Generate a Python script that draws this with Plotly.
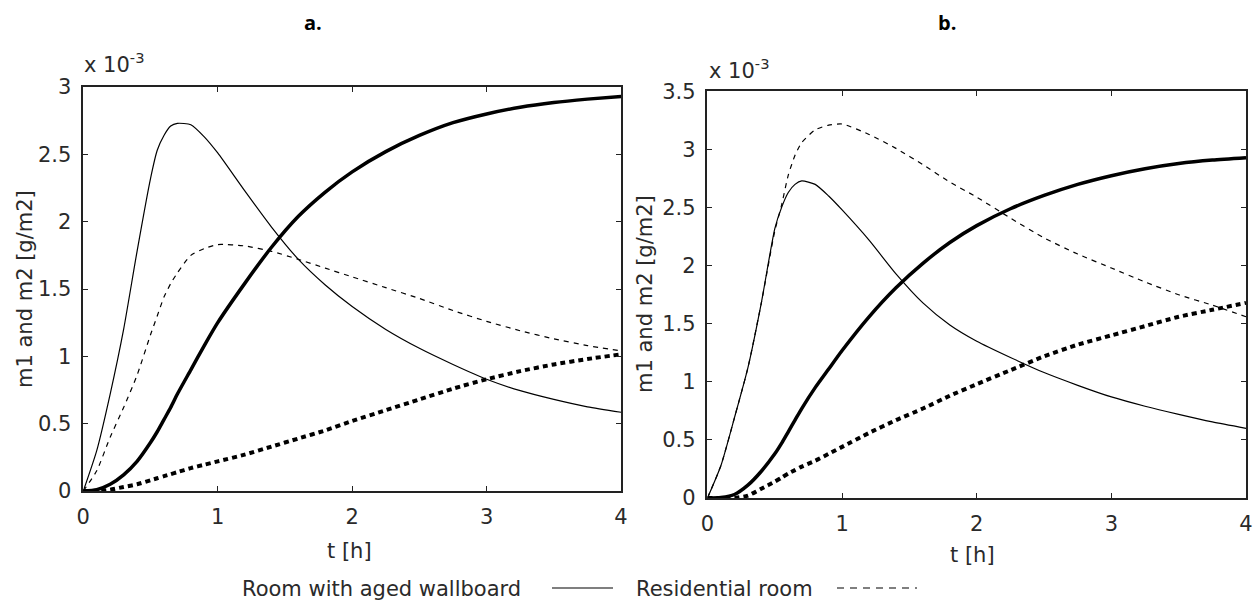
import plotly.graph_objects as go

# Time grid in hours
t = [0, 0.1, 0.2, 0.3, 0.4, 0.5, 0.55, 0.6, 0.65, 0.7, 0.8, 0.9, 1.0, 1.2, 1.4, 1.6,
     1.8, 2.0, 2.25, 2.5, 2.75, 3.0, 3.25, 3.5, 3.75, 4.0]

# Panel a: mass per area, in units of 1e-3 g/m2
a_m1_aged = [0, 0.30, 0.72, 1.20, 1.78, 2.32, 2.53, 2.64, 2.71, 2.73, 2.72, 2.63, 2.51, 2.23,
             1.96, 1.72, 1.53, 1.37, 1.20, 1.06, 0.94, 0.83, 0.745, 0.68, 0.625, 0.585]
a_m1_resid = [0, 0.15, 0.40, 0.62, 0.86, 1.16, 1.30, 1.44, 1.54, 1.62, 1.75, 1.80, 1.83, 1.82,
              1.78, 1.72, 1.655, 1.59, 1.51, 1.43, 1.34, 1.26, 1.19, 1.13, 1.08, 1.04]
a_m2_aged = [0, 0.01, 0.05, 0.12, 0.22, 0.36, 0.44, 0.53, 0.62, 0.72, 0.90, 1.08, 1.25, 1.54,
             1.81, 2.04, 2.22, 2.37, 2.52, 2.64, 2.735, 2.80, 2.85, 2.885, 2.91, 2.93]
a_m2_resid = [0, 0, 0.01, 0.03, 0.05, 0.08, 0.095, 0.11, 0.125, 0.14, 0.17, 0.195, 0.22, 0.27,
              0.33, 0.39, 0.45, 0.52, 0.60, 0.68, 0.76, 0.83, 0.89, 0.94, 0.98, 1.015]

# Panel b
b_m1_aged = [0, 0.28, 0.69, 1.12, 1.68, 2.32, 2.50, 2.63, 2.70, 2.73, 2.70, 2.60, 2.48, 2.22,
             1.93, 1.68, 1.49, 1.35, 1.21, 1.08, 0.97, 0.87, 0.79, 0.72, 0.655, 0.60]
b_m1_resid = [0, 0.28, 0.69, 1.12, 1.68, 2.30, 2.52, 2.78, 2.95, 3.06, 3.17, 3.21, 3.22, 3.13,
              3.01, 2.87, 2.72, 2.59, 2.41, 2.24, 2.10, 1.98, 1.86, 1.75, 1.66, 1.56]
b_m2_aged = [0, 0.005, 0.03, 0.11, 0.23, 0.38, 0.47, 0.57, 0.67, 0.77, 0.95, 1.11, 1.27, 1.56,
             1.81, 2.02, 2.20, 2.345, 2.49, 2.605, 2.70, 2.775, 2.835, 2.88, 2.91, 2.93]
b_m2_resid = [0, 0, 0, 0.02, 0.08, 0.14, 0.175, 0.21, 0.24, 0.27, 0.32, 0.38, 0.44, 0.56,
              0.67, 0.77, 0.88, 0.98, 1.10, 1.22, 1.32, 1.40, 1.48, 1.56, 1.62, 1.68]

x_ticks = [0, 1, 2, 3, 4]
a_y_ticks = [0, 0.5, 1, 1.5, 2, 2.5, 3]
b_y_ticks = [0, 0.5, 1, 1.5, 2, 2.5, 3, 3.5]

FONT = "DejaVu Sans"
INK = "#2a2a2a"

thin_solid = dict(color="black", width=1.2)
thin_dash = dict(color="black", width=1.2, dash="5px,5px")
thick_solid = dict(color="black", width=3.5)
thick_dot = dict(color="black", width=4, dash="5px,4px")

fig = go.Figure()

for xa, ya, series in [
    ("x", "y", [a_m1_aged, a_m1_resid, a_m2_aged, a_m2_resid]),
    ("x2", "y2", [b_m1_aged, b_m1_resid, b_m2_aged, b_m2_resid]),
]:
    for vals, style in zip(series, [thin_solid, thin_dash, thick_solid, thick_dot]):
        fig.add_trace(go.Scatter(
            x=t, y=vals, xaxis=xa, yaxis=ya, mode="lines",
            line=dict(shape="spline", smoothing=0.6, **style),
            showlegend=False, hoverinfo="skip",
        ))

axis_common = dict(
    showgrid=False, zeroline=False, showline=True, linecolor="#222", linewidth=1.5,
    mirror="ticks", ticks="inside", ticklen=5, tickwidth=1.2, tickcolor="#222",
    tickfont=dict(family=FONT, size=21, color=INK), automargin=False,
)

fig.update_layout(
    width=1260, height=605, margin=dict(l=0, r=0, t=0, b=0, autoexpand=False),
    paper_bgcolor="white", plot_bgcolor="white",
    xaxis=dict(domain=[0.0661, 0.4929], range=[0, 4], tickvals=x_ticks,
               anchor="y", ticklabelstandoff=6, **axis_common),
    yaxis=dict(domain=[0.1884, 0.8562], range=[0, 3], tickvals=a_y_ticks,
               ticktext=[f"{v:g}" for v in a_y_ticks], anchor="x",
               ticklabelstandoff=6, **axis_common),
    xaxis2=dict(domain=[0.5615, 0.9889], range=[0, 4], tickvals=x_ticks,
                anchor="y2", ticklabelstandoff=6, **axis_common),
    yaxis2=dict(domain=[0.1769, 0.8488], range=[0, 3.5], tickvals=b_y_ticks,
                ticktext=[f"{v:g}" for v in b_y_ticks], anchor="x2",
                ticklabelstandoff=6, **axis_common),
)

def px_x(px):
    return px / 1260

def px_y(py):
    return 1 - py / 605

annotations = [
    # panel letters
    dict(text="<b>a.</b>", x=px_x(313), y=px_y(22), font=dict(family="Open Sans", size=20, color="black")),
    dict(text="<b>b.</b>", x=px_x(947), y=px_y(22), font=dict(family="Open Sans", size=20, color="black")),
    # exponent labels
    dict(text="x 10<sup>-3</sup>", x=px_x(82), y=px_y(63), xanchor="left",
         font=dict(family=FONT, size=21, color=INK)),
    dict(text="x 10<sup>-3</sup>", x=px_x(707), y=px_y(69), xanchor="left",
         font=dict(family=FONT, size=21, color=INK)),
    # axis titles
    dict(text="m1 and m2 [g/m2]", x=px_x(25), y=px_y(289), textangle=-90,
         font=dict(family=FONT, size=21, color=INK)),
    dict(text="m1 and m2 [g/m2]", x=px_x(645), y=px_y(294), textangle=-90,
         font=dict(family=FONT, size=21, color=INK)),
    dict(text="t [h]", x=px_x(349), y=px_y(551), font=dict(family=FONT, size=21, color=INK)),
    dict(text="t [h]", x=px_x(972), y=px_y(555), font=dict(family=FONT, size=21, color=INK)),
    # legend labels
    dict(text="Room with aged wallboard", x=px_x(240), y=px_y(589), xanchor="left",
         font=dict(family=FONT, size=21, color=INK)),
    dict(text="Residential room", x=px_x(634), y=px_y(589), xanchor="left",
         font=dict(family=FONT, size=21, color=INK)),
]
for a in annotations:
    a.setdefault("xanchor", "center")
    a.update(xref="paper", yref="paper", yanchor="middle", showarrow=False)
fig.update_layout(annotations=annotations)

# legend swatches
fig.add_shape(type="line", xref="paper", yref="paper",
              x0=px_x(552), x1=px_x(613), y0=px_y(588), y1=px_y(588),
              line=dict(color="black", width=1.2))
fig.add_shape(type="line", xref="paper", yref="paper",
              x0=px_x(837), x1=px_x(917), y0=px_y(588), y1=px_y(588),
              line=dict(color="black", width=1.2, dash="7px,6px"))

fig.write_html("out.html")
